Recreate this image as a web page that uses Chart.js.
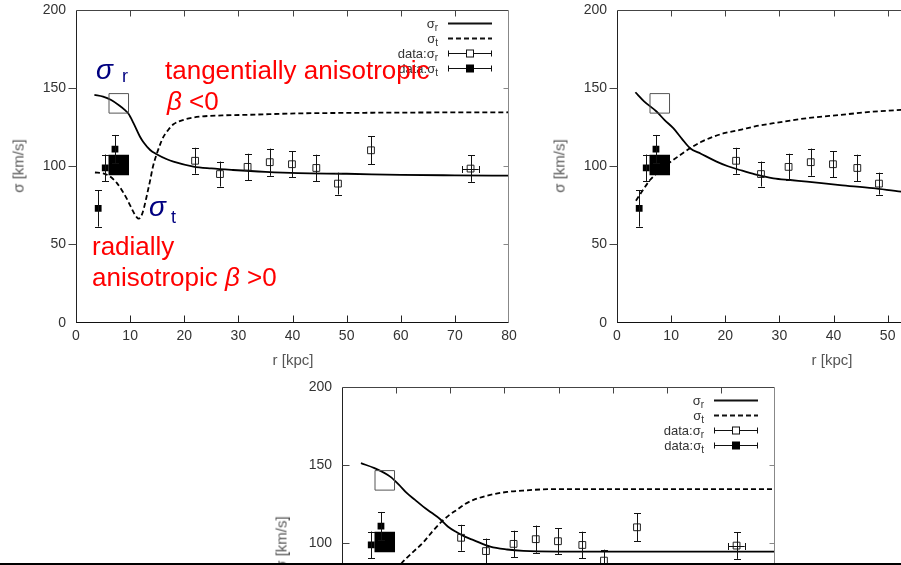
<!DOCTYPE html>
<html>
<head>
<meta charset="utf-8">
<script src="https://cdn.jsdelivr.net/npm/chart.js@4.4.1/dist/chart.umd.min.js"></script>
<style>
  html, body { margin: 0; padding: 0; background: #fff; }
  body { width: 901px; height: 565px; position: relative; overflow: hidden; font-family: "Liberation Sans", Arial, sans-serif; }
  canvas { position: absolute; }
  .lbl { position: absolute; white-space: nowrap; line-height: 1; }
  .red { color: #ff0000; font-size: 26px; }
  .navy { color: #000080; }
  .axt { position: absolute; white-space: nowrap; font-size: 15px; color: #555; font-weight: normal; line-height: 1; transform: translate(-50%, -50%); }
  .axt.rot { transform: translate(-50%, -50%) rotate(-90deg); }
  .rule { position: absolute; left: 0; top: 563px; width: 901px; height: 2px; background: #000; }
</style>
</head>
<body>
<canvas id="p1" width="540" height="385" style="left:0;top:-5px"></canvas>
<canvas id="p2" width="540" height="385" style="left:541px;top:-5px"></canvas>
<canvas id="p3" width="540" height="385" style="left:266px;top:372px"></canvas>

<div class="axt rot" style="left:18px;top:166px">σ [km/s]</div>
<div class="axt" style="left:293px;top:359px">r [kpc]</div>
<div class="axt rot" style="left:559px;top:166px">σ [km/s]</div>
<div class="axt" style="left:832px;top:359px">r [kpc]</div>
<div class="axt rot" style="left:281px;top:543px">σ [km/s]</div>

<div class="lbl navy" style="left:96px;top:56px;font-size:28px"><i>σ</i></div>
<div class="lbl navy" style="left:122px;top:67px;font-size:18px">r</div>
<div class="lbl navy" style="left:149px;top:193px;font-size:28px"><i>σ</i></div>
<div class="lbl navy" style="left:171px;top:208px;font-size:18px">t</div>

<div class="lbl red" style="left:165px;top:57px">tangentially anisotropic</div>
<div class="lbl red" style="left:167px;top:88px"><i>β</i> &lt;0</div>
<div class="lbl red" style="left:92px;top:233px">radially</div>
<div class="lbl red" style="left:92px;top:264px">anisotropic <i>β</i> &gt;0</div>

<div class="rule"></div>

<script>
// measured dispersions (outer halo tracers)
const rData    = [22.0, 26.6, 31.7, 35.8, 39.9, 44.4, 48.4, 54.5, 72.9];
const sigRData = [103.5, 95.0, 99.6, 102.6, 101.3, 98.9, 88.9, 110.2, 98.5];
const sigRErr  = [8.3, 8.0, 8.4, 8.7, 8.4, 8.5, 7.0, 9.0, 8.5];
const rDataErr = [0, 0, 0, 0, 0, 0, 0, 0, 1.5];

// inner tangential measurements
const rInner   = [4.1, 5.4, 7.2];
const sigTData = [73.1, 99.0, 111.0];
const sigTErr  = [11.7, 8.5, 9.0];

// binned inner values (large symbols)
const rBin    = [7.9];
const sigRBin = [140.2];
const sigTBin = [100.8];

// model 1: dip in sigma_t
const r1R = [3.4, 5, 6.5, 8, 9, 9.7, 10.6, 11.8, 12.4, 13.7, 14.9, 16.8, 18, 21.7, 25, 29, 35, 41, 50, 60, 70, 80];
const s1R = [145.6, 144.5, 142.3, 138.8, 136, 133.5, 127.7, 119, 115.7, 110.4, 107.7, 104.5, 103, 99.8, 98.6, 97.6, 96.4, 95.6, 95.2, 94.5, 94.2, 94];
const r1T = [3.5, 5, 6.3, 7.5, 8.5, 9.5, 10.5, 11.2, 11.6, 12.1, 12.6, 13.1, 13.7, 14.2, 14.9, 15.5, 16.1, 17, 18, 20, 22.9, 27, 32, 41, 50, 60, 80];
const s1T = [96, 95.5, 93.4, 89.5, 84.5, 78.5, 71.5, 67.5, 66.5, 68.5, 74, 81.5, 91, 99.5, 107.7, 113.5, 118.5, 123, 126.8, 129.8, 131.7, 132.5, 132.9, 133.8, 134.1, 134.3, 134.5];

// model 2: crossing power laws
const r2R = [3.4, 5, 7.3, 8.8, 10.4, 12, 13.5, 15.5, 18.4, 20.5, 22.7, 25.5, 28.9, 32, 35.1, 41.2, 47.3, 52.5, 60, 70, 80];
const s2R = [147.3, 141.5, 135, 129.5, 124.3, 117.5, 111.5, 108, 103, 100, 97.6, 94.8, 92.3, 91.2, 90.2, 88, 86, 83.8, 81.5, 79, 77];
const r2T = [3.5, 4.8, 6.1, 7.5, 8.8, 10.1, 11.8, 13.5, 15.5, 17.9, 20, 22.7, 25.5, 28.9, 32, 35.1, 41.2, 47.3, 52.5, 60, 70, 80];
const s2T = [78, 84.8, 91.2, 96, 100, 103.3, 107.5, 111.5, 115.5, 119, 121.3, 123.2, 125.5, 127.5, 129.2, 130.7, 132.8, 134.9, 136, 137.5, 139, 140];

// model 3: smooth transition
const r3R = [3.5, 6, 8.9, 10.5, 12, 13.5, 15, 16.5, 18.1, 19.6, 21.2, 22.7, 24.3, 27.4, 30.5, 33.5, 40, 50, 60, 80];
const s3R = [151.2, 148, 142.6, 137.5, 132, 127.7, 123.4, 119.6, 115.5, 110.5, 107, 104.2, 102, 97.8, 96, 95.1, 94.7, 94.7, 94.7, 94.7];
const r3T = [3.5, 6, 8.5, 11, 13, 15, 16.7, 18.4, 19.8, 21.2, 22.7, 24.3, 27.4, 30.5, 33.5, 39, 50, 60, 80];
const s3T = [55, 64, 75, 87.2, 94, 100.5, 107.5, 113.8, 118, 121.3, 125, 127.7, 130.9, 132.8, 133.7, 134.6, 134.6, 134.6, 134.6];

const FONT = '"Liberation Sans", Arial, sans-serif';
const pts = (xs, ys) => xs.map((x, i) => ({ x, y: ys[i] }));

// error bars from errY / errX stored on the dataset
const errorBars = {
  id: 'errorBars',
  afterDatasetsDraw(chart) {
    const { ctx, scales: { x, y } } = chart;
    ctx.save();
    ctx.strokeStyle = '#111';
    ctx.lineWidth = 1;
    chart.data.datasets.forEach(ds => {
      if (!ds.errY) return;
      ds.data.forEach((p, i) => {
        const px = Math.round(x.getPixelForValue(p.x)) + 0.5;
        const y1 = y.getPixelForValue(p.y + ds.errY[i]);
        const y2 = y.getPixelForValue(p.y - ds.errY[i]);
        ctx.beginPath();
        ctx.moveTo(px, y1); ctx.lineTo(px, y2);
        ctx.moveTo(px - 3.5, Math.round(y1) + 0.5); ctx.lineTo(px + 3.5, Math.round(y1) + 0.5);
        ctx.moveTo(px - 3.5, Math.round(y2) + 0.5); ctx.lineTo(px + 3.5, Math.round(y2) + 0.5);
        const ex = ds.errX ? ds.errX[i] : 0;
        if (ex) {
          const py = Math.round(y.getPixelForValue(p.y)) + 0.5;
          const x1 = x.getPixelForValue(p.x - ex), x2 = x.getPixelForValue(p.x + ex);
          ctx.moveTo(x1, py); ctx.lineTo(x2, py);
          ctx.moveTo(Math.round(x1) + 0.5, py - 3.5); ctx.lineTo(Math.round(x1) + 0.5, py + 3.5);
          ctx.moveTo(Math.round(x2) + 0.5, py - 3.5); ctx.lineTo(Math.round(x2) + 0.5, py + 3.5);
        }
        ctx.stroke();
      });
    });
    ctx.restore();
  }
};

// box border with mirrored tick marks
const frame = {
  id: 'frame',
  afterDraw(chart, args, o) {
    const { ctx, chartArea: a, scales: { x, y } } = chart;
    const L = Math.round(a.left) + 0.5, R = Math.round(a.right) - 0.5;
    const T = Math.round(a.top) + 0.5, B = Math.round(a.bottom) - 0.5;
    ctx.save();
    ctx.lineWidth = 1;
    const seg = (c, x1, y1, x2, y2) => {
      ctx.strokeStyle = c;
      ctx.beginPath(); ctx.moveTo(x1, y1); ctx.lineTo(x2, y2); ctx.stroke();
    };
    seg('#444', L, T, R, T);
    seg('#888', R, T, R, B);
    seg('#222', L, T, L, B + 0.5);
    seg('#111', L, B, R, B);
    for (let v = 10; v < 80; v += 10) {
      const px = Math.round(x.getPixelForValue(v)) + 0.5;
      seg('#222', px, B, px, B - 7);
      seg('#444', px, T, px, T + 6);
    }
    for (let v = 50; v < 200; v += 50) {
      const py = Math.round(y.getPixelForValue(v)) + 0.5;
      if (o.leftOut) seg('#444', L - 8, py, L, py);
      else seg('#444', L, py, L + 7, py);
      seg('#888', R - 5, py, R, py);
    }
    ctx.restore();
  }
};

// key in the upper right corner
const sigLegend = {
  id: 'sigLegend',
  afterDraw(chart) {
    const { ctx, chartArea: a } = chart;
    const rows = [
      { main: 'σ', sub: 'r', kind: 'solid' },
      { main: 'σ', sub: 't', kind: 'dash' },
      { main: 'data:σ', sub: 'r', kind: 'open' },
      { main: 'data:σ', sub: 't', kind: 'fill' }
    ];
    const xt = a.right - 71, x1 = a.right - 61, x2 = a.right - 17;
    ctx.save();
    rows.forEach((row, i) => {
      const yy = Math.round(a.top + 13 + i * 15) + 0.5;
      ctx.fillStyle = '#333';
      ctx.textAlign = 'right';
      ctx.textBaseline = 'alphabetic';
      ctx.font = '10px ' + FONT;
      ctx.fillText(row.sub, xt, yy + 7);
      const sw = ctx.measureText(row.sub).width;
      ctx.font = '13px ' + FONT;
      ctx.fillText(row.main, xt - sw, yy + 4);

      ctx.strokeStyle = '#111';
      ctx.lineWidth = row.kind === 'solid' || row.kind === 'dash' ? 1.8 : 1;
      ctx.setLineDash(row.kind === 'dash' ? [5, 3] : []);
      ctx.beginPath();
      ctx.moveTo(x1, yy); ctx.lineTo(x2, yy);
      ctx.stroke();
      ctx.setLineDash([]);
      if (row.kind === 'open' || row.kind === 'fill') {
        ctx.beginPath();
        ctx.moveTo(x1 + 0.5, yy - 3); ctx.lineTo(x1 + 0.5, yy + 3);
        ctx.moveTo(x2 - 0.5, yy - 3); ctx.lineTo(x2 - 0.5, yy + 3);
        ctx.stroke();
        const cx = Math.round((x1 + x2) / 2);
        if (row.kind === 'fill') {
          ctx.fillStyle = '#000';
          ctx.fillRect(cx - 4, yy - 4, 8, 8);
        } else {
          ctx.fillStyle = '#fff';
          ctx.fillRect(cx - 3.5, yy - 3.5, 7, 7);
          ctx.strokeRect(cx - 3.5, yy - 3.5, 7, 7);
        }
      }
    });
    ctx.restore();
  }
};

function makePanel(id, rR, sR, rT, sT, leftOut) {
  const tickFont = { family: FONT, size: 14 };
  return new Chart(document.getElementById(id), {
    type: 'scatter',
    data: {
      datasets: [
        { data: pts(rData, sigRData), errY: sigRErr, errX: rDataErr, pointStyle: 'rect',
          pointRadius: 4.8, borderWidth: 1, borderColor: '#222', backgroundColor: 'rgba(0,0,0,0)' },
        { data: pts(rInner, sigTData), errY: sigTErr, pointStyle: 'rect',
          pointRadius: 4.8, borderWidth: 0, backgroundColor: '#000' },
        { data: pts(rBin, sigTBin), pointStyle: 'rect',
          pointRadius: 14.5, borderWidth: 0, backgroundColor: '#000' },
        { data: pts(rBin, sigRBin), pointStyle: 'rect',
          pointRadius: 13.8, borderWidth: 1, borderColor: '#555', backgroundColor: 'rgba(0,0,0,0)' },
        { data: pts(rR, sR), showLine: true, pointRadius: 0, borderColor: '#000', borderWidth: 1.8,
          cubicInterpolationMode: 'monotone' },
        { data: pts(rT, sT), showLine: true, pointRadius: 0, borderColor: '#000', borderWidth: 1.8,
          borderDash: [5, 3], cubicInterpolationMode: 'monotone' }
      ]
    },
    options: {
      responsive: false,
      animation: false,
      devicePixelRatio: 1,
      layout: { padding: { top: 5, right: 31, bottom: 0, left: 0 } },
      plugins: { legend: { display: false }, tooltip: { enabled: false }, frame: { leftOut } },
      scales: {
        x: {
          type: 'linear', min: 0, max: 80,
          grid: { display: false, drawTicks: false }, border: { display: false },
          ticks: { stepSize: 10, padding: 5, color: '#333', font: tickFont, maxRotation: 0, autoSkip: false },
          afterFit: s => { s.height = 57.3; }
        },
        y: {
          type: 'linear', min: 0, max: 200,
          grid: { display: false, drawTicks: false }, border: { display: false },
          ticks: { stepSize: 50, padding: 10, color: '#333', font: tickFont },
          afterFit: s => { s.width = 76; s.paddingTop = 0; s.paddingBottom = 0; }
        }
      }
    },
    plugins: [errorBars, frame, sigLegend]
  });
}

makePanel('p1', r1R, s1R, r1T, s1T, true);
makePanel('p2', r2R, s2R, r2T, s2T, true);
makePanel('p3', r3R, s3R, r3T, s3T, false);
</script>
</body>
</html>
